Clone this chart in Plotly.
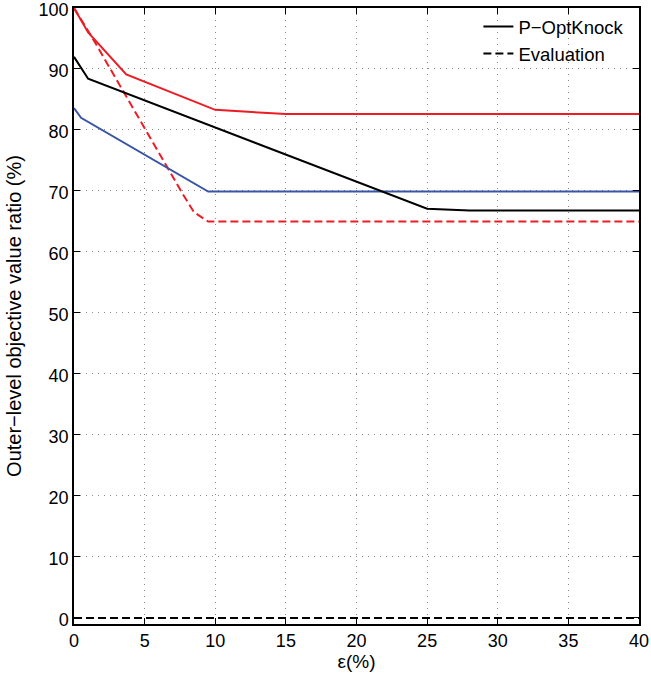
import plotly.graph_objects as go

red_solid_x = [0, 1.0, 3.7, 10, 15, 40]
red_solid_y = [100, 96.0, 89.1, 83.3, 82.6, 82.6]
red_dash_x = [0, 1.2, 7.7, 8.5, 9.5, 40]
red_dash_y = [100, 95.5, 69.5, 66.5, 65.0, 65.0]
black_solid_x = [0, 1.0, 25, 28, 40]
black_solid_y = [92.0, 88.4, 67.1, 66.8, 66.8]
blue_solid_x = [0, 0.5, 9.5, 40]
blue_solid_y = [83.6, 82.0, 69.9, 69.9]
blue_dash_x = [0, 40]
blue_dash_y = [0, 0]
black_dash_x = [0, 40]
black_dash_y = [0, 0]

x_ticks = [0, 5, 10, 15, 20, 25, 30, 35, 40]
y_ticks = [0, 10, 20, 30, 40, 50, 60, 70, 80, 90, 100]

RED = "#ec1c24"
BLUE = "#3a55a5"
BLACK = "#000000"
DASH = "8px,4px"

fig = go.Figure()
fig.add_trace(go.Scatter(x=blue_dash_x, y=blue_dash_y, mode="lines",
                         line=dict(color=BLUE, width=2, dash=DASH), showlegend=False))
fig.add_trace(go.Scatter(x=black_dash_x, y=black_dash_y, mode="lines",
                         line=dict(color=BLACK, width=2, dash=DASH), showlegend=False))
fig.add_trace(go.Scatter(x=red_dash_x, y=red_dash_y, mode="lines",
                         line=dict(color=RED, width=2, dash=DASH), showlegend=False))
fig.add_trace(go.Scatter(x=blue_solid_x, y=blue_solid_y, mode="lines",
                         line=dict(color=BLUE, width=2), showlegend=False))
fig.add_trace(go.Scatter(x=black_solid_x, y=black_solid_y, mode="lines",
                         line=dict(color=BLACK, width=2), showlegend=False))
fig.add_trace(go.Scatter(x=red_solid_x, y=red_solid_y, mode="lines",
                         line=dict(color=RED, width=2), showlegend=False))
# legend entries
fig.add_trace(go.Scatter(x=[None], y=[None], mode="lines", name="P\u2212OptKnock",
                         line=dict(color=BLACK, width=2)))
fig.add_trace(go.Scatter(x=[None], y=[None], mode="lines", name="Evaluation",
                         line=dict(color=BLACK, width=2, dash=DASH)))

axis_common = dict(
    showline=True, linecolor="black", linewidth=1.5, mirror="allticks",
    ticks="inside", ticklen=6, tickcolor="black", tickwidth=1,
    showgrid=True, gridcolor="#8a8a8a", griddash="1px,5px", gridwidth=1,
    zeroline=False, tickfont=dict(size=18, color="black"), automargin=False,
    ticklabeloverflow="allow",
)

fig.update_layout(
    width=651, height=674,
    margin=dict(l=74, r=12, t=8, b=50),
    paper_bgcolor="white", plot_bgcolor="white",
    font=dict(family="Liberation Sans, Arial, sans-serif", size=18, color="black"),
    xaxis=dict(range=[0, 40], tickvals=x_ticks,
               title=dict(text="\u03b5(%)", standoff=2, font=dict(size=19)),
               **axis_common),
    yaxis=dict(range=[-1, 100], tickvals=y_ticks, ticklabelshift=2,
               title=dict(text="Outer\u2212level objective value ratio (%)", standoff=12,
                          font=dict(size=20)),
               **axis_common),
    legend=dict(x=0.983, y=1.0, xanchor="right", yanchor="top",
                bgcolor="rgba(0,0,0,0)", borderwidth=0,
                font=dict(size=18.5), tracegroupgap=0),
)

fig.write_html("out.html", config={"displayModeBar": False},
               post_script="document.body.style.margin='0';document.body.style.overflow='hidden';")
